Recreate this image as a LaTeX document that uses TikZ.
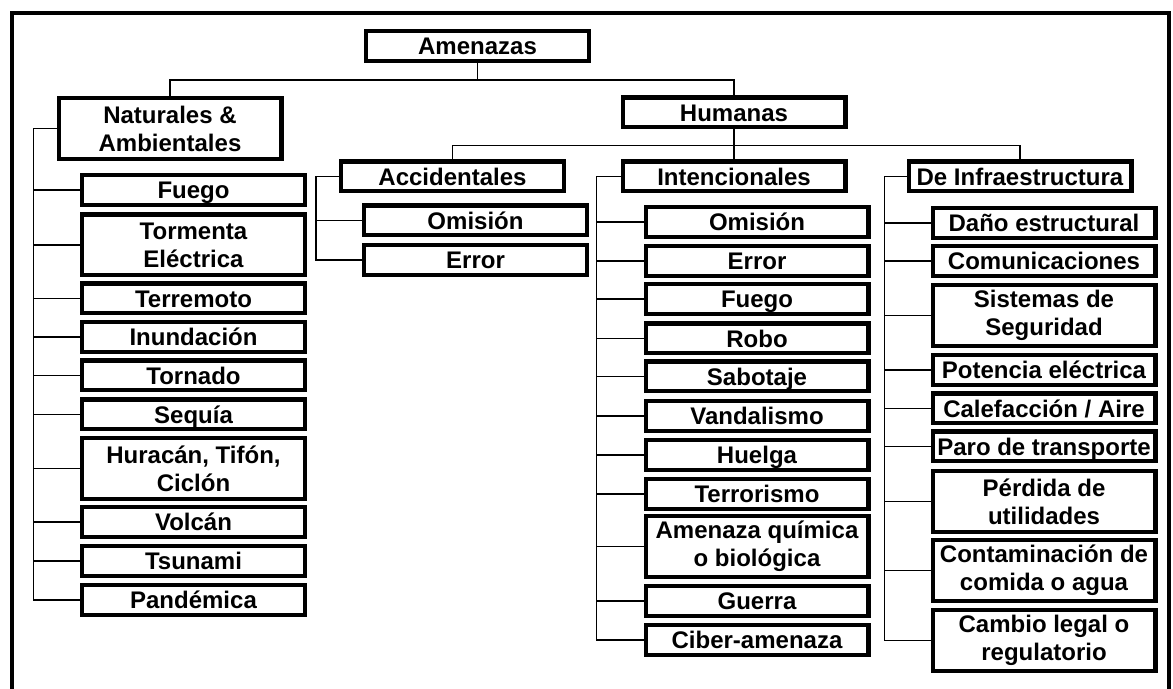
\documentclass[tikz,border=0pt]{standalone}
\usepackage{fontspec}
\setmainfont{Liberation Sans}

\begin{document}
\begin{tikzpicture}[x=0.5pt,y=-0.5pt,
  caja/.style={draw,line width=2.2pt,minimum width=111.3pt,minimum height=14.8pt,inner sep=0pt,text height=8.6pt,text depth=0pt},
  caja2/.style={draw,line width=2.2pt,minimum width=111.3pt,minimum height=30.3pt,inner sep=0pt,align=center},
  rama/.style={line width=0.7pt},
  font=\fontsize{12}{14}\selectfont\bfseries]
  \useasboundingbox (0,0) rectangle (1173,689);
  % --- marco ---
  \draw[line width=2pt] (12,700) -- (12,13) -- (1169,13) -- (1169,700);
  % --- niveles superiores ---
  \node[caja] (amen) at (477.5,46) {Amenazas};
  \node[caja2] (nat) at (170,128.5) {Naturales \&\\Ambientales};
  \node[caja] (hum) at (734,112.5) {Humanas};
  \node[caja] (acc) at (452.5,176.5) {Accidentales};
  \node[caja] (int) at (734,176.5) {Intencionales};
  \node[caja] (inf) at (1020,176.5) {De Infraestructura};
  \draw[rama] (amen.south) -- ++(0,17) -| (nat.north);
  \draw[rama] (amen.south) -- ++(0,17) -| (hum.north);
  \draw[rama] (hum.south) -- ++(0,16) -| (acc.north);
  \draw[rama] (hum.south) -- ++(0,16) -| (int.north);
  \draw[rama] (hum.south) -- ++(0,16) -| (inf.north);
  % --- naturales y ambientales ---
  \node[caja] (n1) at (193.5,190) {Fuego};
  \node[caja2] (n2) at (193.5,245) {Tormenta\\Eléctrica};
  \node[caja] (n3) at (193.5,298.5) {Terremoto};
  \node[caja] (n4) at (193.5,337) {Inundación};
  \node[caja] (n5) at (193.5,375.5) {Tornado};
  \node[caja] (n6) at (193.5,414.5) {Sequía};
  \node[caja2] (n7) at (193.5,468.5) {Huracán, Tifón,\\Ciclón};
  \node[caja] (n8) at (193.5,522) {Volcán};
  \node[caja] (n9) at (193.5,561) {Tsunami};
  \node[caja] (n10) at (193.5,600) {Pandémica};
  \draw[rama] (nat.west) -- ++(-23,0) |- (n1.west);
  \draw[rama] (nat.west) -- ++(-23,0) |- (n2.west);
  \draw[rama] (nat.west) -- ++(-23,0) |- (n3.west);
  \draw[rama] (nat.west) -- ++(-23,0) |- (n4.west);
  \draw[rama] (nat.west) -- ++(-23,0) |- (n5.west);
  \draw[rama] (nat.west) -- ++(-23,0) |- (n6.west);
  \draw[rama] (nat.west) -- ++(-23,0) |- (n7.west);
  \draw[rama] (nat.west) -- ++(-23,0) |- (n8.west);
  \draw[rama] (nat.west) -- ++(-23,0) |- (n9.west);
  \draw[rama] (nat.west) -- ++(-23,0) |- (n10.west);
  % --- accidentales ---
  \node[caja] (a1) at (475.5,220.5) {Omisión};
  \node[caja] (a2) at (475.5,260) {Error};
  \draw[rama] (acc.west) -- ++(-23,0) |- (a1.west);
  \draw[rama] (acc.west) -- ++(-23,0) |- (a2.west);
  % --- intencionales ---
  \node[caja] (i1) at (757,222) {Omisión};
  \node[caja] (i2) at (757,261) {Error};
  \node[caja] (i3) at (757,299) {Fuego};
  \node[caja] (i4) at (757,338.5) {Robo};
  \node[caja] (i5) at (757,376.5) {Sabotaje};
  \node[caja] (i6) at (757,416) {Vandalismo};
  \node[caja] (i7) at (757,455) {Huelga};
  \node[caja] (i8) at (757,494) {Terrorismo};
  \node[caja2] (i9) at (757,546.5) {Amenaza química\\o biológica};
  \node[caja] (i10) at (757,601) {Guerra};
  \node[caja] (i11) at (757,640) {Ciber-amenaza};
  \draw[rama] (int.west) -- ++(-24,0) |- (i1.west);
  \draw[rama] (int.west) -- ++(-24,0) |- (i2.west);
  \draw[rama] (int.west) -- ++(-24,0) |- (i3.west);
  \draw[rama] (int.west) -- ++(-24,0) |- (i4.west);
  \draw[rama] (int.west) -- ++(-24,0) |- (i5.west);
  \draw[rama] (int.west) -- ++(-24,0) |- (i6.west);
  \draw[rama] (int.west) -- ++(-24,0) |- (i7.west);
  \draw[rama] (int.west) -- ++(-24,0) |- (i8.west);
  \draw[rama] (int.west) -- ++(-24,0) |- (i9.west);
  \draw[rama] (int.west) -- ++(-24,0) |- (i10.west);
  \draw[rama] (int.west) -- ++(-24,0) |- (i11.west);
  % --- de infraestructura ---
  \node[caja] (f1) at (1044,223) {Daño estructural};
  \node[caja] (f2) at (1044,261) {Comunicaciones};
  \node[caja2] (f3) at (1044,315.5) {Sistemas de\\Seguridad};
  \node[caja] (f4) at (1044,370) {Potencia eléctrica};
  \node[caja] (f5) at (1044,408.5) {Calefacción / Aire};
  \node[caja] (f6) at (1044,446.5) {Paro de transporte};
  \node[caja2] (f7) at (1044,501.5) {Pérdida de\\utilidades};
  \node[caja2] (f8) at (1044,570.5) {Contaminación de\\comida o agua};
  \node[caja2] (f9) at (1044,640.5) {Cambio legal o\\regulatorio};
  \draw[rama] (inf.west) -- ++(-22,0) |- (f1.west);
  \draw[rama] (inf.west) -- ++(-22,0) |- (f2.west);
  \draw[rama] (inf.west) -- ++(-22,0) |- (f3.west);
  \draw[rama] (inf.west) -- ++(-22,0) |- (f4.west);
  \draw[rama] (inf.west) -- ++(-22,0) |- (f5.west);
  \draw[rama] (inf.west) -- ++(-22,0) |- (f6.west);
  \draw[rama] (inf.west) -- ++(-22,0) |- (f7.west);
  \draw[rama] (inf.west) -- ++(-22,0) |- (f8.west);
  \draw[rama] (inf.west) -- ++(-22,0) |- (f9.west);
\end{tikzpicture}
\end{document}
